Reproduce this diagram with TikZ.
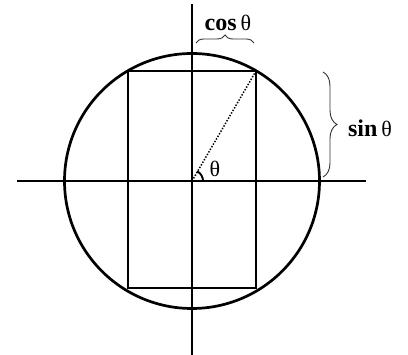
\documentclass[tikz,border=0pt]{standalone}
\usepackage{fontspec}
\setmainfont{Liberation Serif}
\usetikzlibrary{decorations.pathreplacing}
\begin{document}
\begin{tikzpicture}[x=1pt,y=1pt,
  geo/.style={line width=2.7pt,black},
  bracestyle/.style={line width=0.9pt,black!80,decorate,decoration={brace,amplitude=#1}},
  lbl/.style={inner sep=0pt,font=\fontsize{24}{26}\selectfont},
  thl/.style={inner sep=0pt,font=\fontsize{22}{24}\selectfont}]
\useasboundingbox (0,0) rectangle (408,355);
\coordinate (C) at (192,174);
\coordinate (P) at (256,284);
\coordinate (xl) at (17,174);
\coordinate (xr) at (366,174);
\coordinate (yt) at (192,351);
\coordinate (yb) at (192,0);
\coordinate (A) at (203,174);
\draw[geo] (C) circle[radius=127.5];
\draw[geo] (128,67) rectangle (P);
\draw[geo] (xl) -- (xr);
\draw[geo] (yt) -- (yb);
\draw[line width=1.5pt,dash pattern=on 1.4pt off 1.6pt] (C) -- (P);
\draw[line width=1.9pt] (A) arc[start angle=0,end angle=62,radius=11];
\node[thl] (th) at (215,186) {θ};
\coordinate (cb1) at (196,312);
\coordinate (cb2) at (254,312);
\draw[bracestyle=8pt] (cb1) -- (cb2);
\node[lbl] (cos) at (228,332) {\textbf{cos}\hspace{4pt}{\fontsize{22}{24}\selectfont θ}};
\coordinate (sb1) at (323,283);
\coordinate (sb2) at (323,178);
\draw[bracestyle=14pt] (sb1) -- (sb2);
\node[lbl] (sin) at (370,227) {\textbf{sin}\hspace{4pt}{\fontsize{22}{24}\selectfont θ}};
\end{tikzpicture}
\end{document}
